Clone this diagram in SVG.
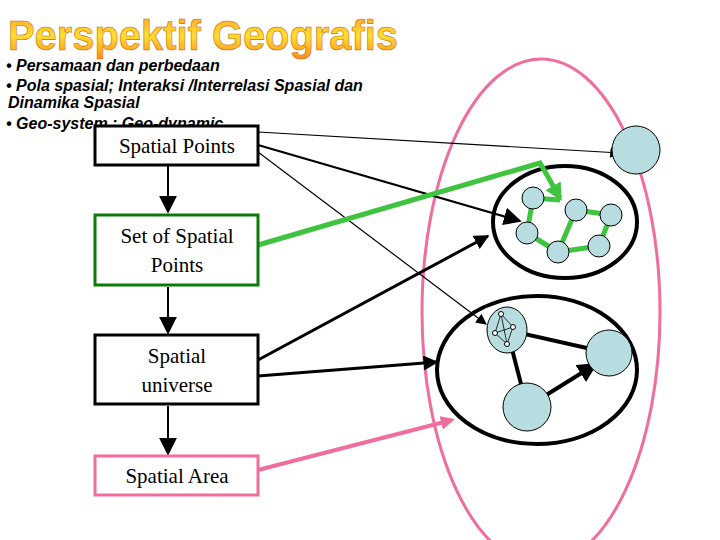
<svg xmlns="http://www.w3.org/2000/svg" width="720" height="540" viewBox="0 0 720 540">
<defs>
<linearGradient id="tg" x1="0" y1="0" x2="0" y2="1"><stop offset="0" stop-color="#ff9a2a"/><stop offset="0.5" stop-color="#ffe030"/><stop offset="1" stop-color="#ff8c1a"/></linearGradient>
<marker id="ab" viewBox="0 0 10 10" refX="9" refY="5" markerWidth="5" markerHeight="5" orient="auto" markerUnits="strokeWidth"><path d="M0,0L10,5L0,10z" fill="#000"/></marker>
<marker id="abt" viewBox="0 0 10 10" refX="9" refY="5" markerWidth="9" markerHeight="9" orient="auto" markerUnits="strokeWidth"><path d="M0,0L10,5L0,10z" fill="#000"/></marker>
<marker id="ag" viewBox="0 0 10 10" refX="8" refY="5" markerWidth="3.5" markerHeight="3.5" orient="auto" markerUnits="strokeWidth"><path d="M0,0L10,5L0,10z" fill="#3ec43e"/></marker>
<marker id="ap" viewBox="0 0 10 10" refX="8" refY="5" markerWidth="3.5" markerHeight="3.5" orient="auto" markerUnits="strokeWidth"><path d="M0,0L10,5L0,10z" fill="#f06e9e"/></marker>
</defs>
<style>
.b{font-family:"Liberation Sans",Arial,sans-serif;font-style:italic;font-weight:bold;font-size:16px}
.n{font-family:"Liberation Serif","Times New Roman",serif;font-size:21px;text-anchor:middle}
.box{fill:#fff;stroke-width:3}
.c{fill:#b8dde0;stroke:#000;stroke-width:1}
.sc{fill:#fff;stroke:#000;stroke-width:1}
</style>
<rect width="720" height="540" fill="#fff"/>
<text x="8" y="50" font-family="Liberation Sans,Arial,sans-serif" font-weight="bold" font-size="42" textLength="390" lengthAdjust="spacingAndGlyphs" fill="url(#tg)" stroke="#c96a10" stroke-width="0.6">Perspektif Geografis</text>
<text class="b" x="6" y="71">• Persamaan dan perbedaan</text>
<text class="b" x="6" y="91">• Pola spasial; Interaksi /Interrelasi Spasial dan</text>
<text class="b" x="8" y="108">Dinamika Spasial</text>
<text class="b" x="6" y="129">• Geo-system ; Geo-dynamic</text>
<g id="region">
<ellipse cx="541" cy="312" rx="119" ry="253" fill="none" stroke="#f06e9e" stroke-width="3"/>
<ellipse cx="565" cy="222" rx="72" ry="56" fill="none" stroke="#000" stroke-width="4"/>
<ellipse cx="537" cy="370" rx="100" ry="74" fill="none" stroke="#000" stroke-width="4"/>
</g>
<g id="connectors" fill="none">
<line x1="168" y1="166" x2="168" y2="212" stroke="#000" stroke-width="2" marker-end="url(#abt)"/>
<line x1="168" y1="287" x2="168" y2="333" stroke="#000" stroke-width="2" marker-end="url(#abt)"/>
<line x1="168" y1="406" x2="168" y2="454" stroke="#000" stroke-width="2" marker-end="url(#abt)"/>
<line x1="258" y1="132" x2="620" y2="153" stroke="#000" stroke-width="1.2" marker-end="url(#abt)"/>
<line x1="258" y1="145" x2="520" y2="221" stroke="#000" stroke-width="2" marker-end="url(#abt)"/>
<line x1="258" y1="152" x2="486" y2="324" stroke="#000" stroke-width="1.2" marker-end="url(#abt)"/>
<line x1="258" y1="360" x2="488" y2="236" stroke="#000" stroke-width="3" marker-end="url(#ab)"/>
<line x1="258" y1="376" x2="437" y2="362" stroke="#000" stroke-width="3" marker-end="url(#ab)"/>
<polyline points="258,245 540,163 560,198" stroke="#3ec43e" stroke-width="5" marker-end="url(#ag)"/>
<line x1="258" y1="470" x2="452" y2="420" stroke="#f06e9e" stroke-width="4" marker-end="url(#ap)"/>
<g stroke="#3ec43e" stroke-width="5">
<line x1="533" y1="198" x2="527" y2="233"/><line x1="527" y1="233" x2="558" y2="252"/><line x1="558" y1="252" x2="576" y2="210"/><line x1="576" y1="210" x2="611" y2="215"/><line x1="611" y1="215" x2="599" y2="246"/><line x1="599" y1="246" x2="558" y2="252"/><line x1="533" y1="198" x2="560" y2="200"/>
</g>
<line x1="507" y1="330" x2="609" y2="353" stroke="#000" stroke-width="4"/>
<line x1="507" y1="330" x2="527" y2="407" stroke="#000" stroke-width="4"/>
<line x1="527" y1="407" x2="596" y2="364" stroke="#000" stroke-width="4" marker-end="url(#ab)"/>
</g>
<g id="boxes">
<g id="n-points"><rect class="box" x="95" y="126" width="163" height="39" stroke="#000"/><text class="n" x="177" y="153">Spatial Points</text></g>
<g id="n-set"><rect class="box" x="95" y="215" width="163" height="70" stroke="#0a7a0a" stroke-width="4"/><text class="n" x="177" y="243">Set of Spatial</text><text class="n" x="177" y="272">Points</text></g>
<g id="n-universe"><rect class="box" x="95" y="335" width="163" height="69" stroke="#000"/><text class="n" x="177" y="363">Spatial</text><text class="n" x="177" y="392">universe</text></g>
<g id="n-area"><rect class="box" x="95" y="456" width="163" height="39" stroke="#f06e9e"/><text class="n" x="177" y="483">Spatial Area</text></g>
</g>
<g id="points">
<circle class="c" cx="636" cy="150" r="24"/>
<circle class="c" cx="533" cy="198" r="11"/><circle class="c" cx="576" cy="210" r="11"/><circle class="c" cx="611" cy="215" r="11"/><circle class="c" cx="527" cy="233" r="11"/><circle class="c" cx="558" cy="252" r="11"/><circle class="c" cx="599" cy="246" r="11"/>
<ellipse class="c" cx="507" cy="330" rx="20" ry="23"/>
<circle class="c" cx="609" cy="353" r="23"/>
<circle class="c" cx="527" cy="407" r="24"/>
<g stroke="#000" stroke-width="0.8"><line x1="501" y1="314" x2="513" y2="327"/><line x1="501" y1="314" x2="495" y2="333"/><line x1="501" y1="314" x2="507" y2="344"/><line x1="513" y1="327" x2="495" y2="333"/><line x1="513" y1="327" x2="507" y2="344"/><line x1="495" y1="333" x2="507" y2="344"/></g>
<circle class="sc" cx="501" cy="314" r="2.5"/><circle class="sc" cx="513" cy="327" r="2.5"/><circle class="sc" cx="495" cy="333" r="2.5"/><circle class="sc" cx="507" cy="344" r="2.5"/>
</g>
</svg>
